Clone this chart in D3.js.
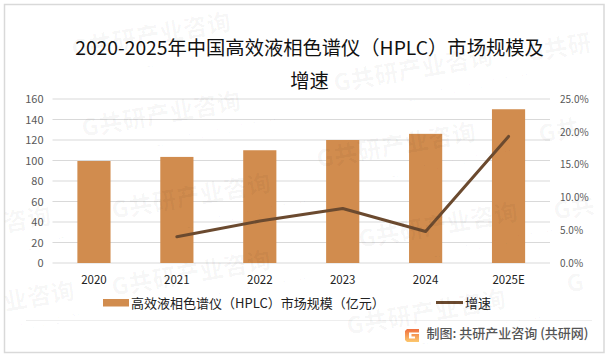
<!DOCTYPE html>
<html>
<head>
<meta charset="utf-8">
<script src="https://cdn.jsdelivr.net/npm/d3@7"></script>
<style>
body { margin: 0; background: #fff; }
text { font-family: "Noto Sans CJK SC", "Noto Sans", sans-serif; }
.axisGrey .domain { display: none; }
.axisGrey .tick line { display: none; }
</style>
</head>
<body>
<div id="my_dataviz"></div>
<script>
var years = ["2020", "2021", "2022", "2023", "2024", "2025E"];
var marketSize = [99.5, 103.5, 110, 120, 126, 150];
var growth = [null, 4.0, 6.4, 8.3, 4.8, 19.3];
var leftTicks = [0, 20, 40, 60, 80, 100, 120, 140, 160];
var rightTicks = [0, 5, 10, 15, 20, 25];
var titleLines = ["2020-2025年中国高效液相色谱仪（HPLC）市场规模及", "增速"];
var barLabel = "高效液相色谱仪（HPLC）市场规模（亿元）";
var lineLabel = "增速";
var sourceLabel = "制图: 共研产业咨询 (共研网)";
// watermark stamps: [x, y, name, site], the ones at the page edge only show part of the name
var stamps = [
  [73, 58, "G共研产业咨询", "www.gonyn.com"],
  [83, 137, "G共研产业咨询", "www.gonyn.com"],
  [113, 219, "G共研产业咨询", "www.gonyn.com"],
  [113, 296, "G共研产业咨询", "www.gonyn.com"],
  [318, 168, "G共研产业咨询", "www.gonyn.com"],
  [335, 92, "G共研产业咨询", "www.gonyn.com"],
  [360, 248, "G共研产业咨询", "www.gonyn.com"],
  [348, 335, "G共研产业咨询", "www.gonyn.com"],
  [528, 62, "G共研", "www"],
  [540, 143, "G共", "www"],
  [555, 220, "G共", "ww"],
  [568, 293, "G", "w"],
  [5, 232, "咨询", ".com"],
  [5, 311, "业咨询", "n.com"]
];

var margin = {top: 99, right: 60, bottom: 97, left: 52.5},
width = 610 - margin.left - margin.right,
height = 360 - margin.top - margin.bottom;

var svg = d3.select("#my_dataviz")
.append("svg")
.attr("width", 610)
.attr("height", 360)
.style("display", "block");

// outer frame
svg.append("rect")
.attr("x", 4.5).attr("y", 4.5)
.attr("width", 599.5).attr("height", 348)
.attr("fill", "#fff")
.attr("stroke", "#d9d9d9")
.attr("stroke-width", 1.5);

// title
svg.selectAll(".title")
.data(titleLines)
.enter()
.append("text")
.attr("class", "title")
.attr("x", 309.5)
.attr("y", function(d, i) { return 55 + i * 33; })
.attr("text-anchor", "middle")
.style("font-size", "19.3px")
.style("fill", "#111")
.text(function(d) { return d; });

var g = svg.append("g")
.attr("transform", "translate(" + margin.left + "," + margin.top + ")");

var x = d3.scaleBand().domain(years).range([0, width]).paddingInner(0.6).paddingOuter(0.3);
var y = d3.scaleLinear().domain([0, 160]).range([height, 0]);
var yRight = d3.scaleLinear().domain([0, 25]).range([height, 0]);

// grid
g.selectAll(".grid")
.data(leftTicks)
.enter()
.append("line")
.attr("x1", 0)
.attr("x2", width)
.attr("y1", function(d) { return y(d); })
.attr("y2", function(d) { return y(d); })
.attr("stroke", "#d9d9d9")
.attr("stroke-width", 1);

// bars
g.selectAll(".bar")
.data(marketSize)
.enter()
.append("rect")
.attr("class", "bar")
.attr("x", function(d, i) { return x(years[i]); })
.attr("y", function(d) { return y(d); })
.attr("width", x.bandwidth())
.attr("height", function(d) { return height - y(d); })
.attr("fill", "#d18c4e");

// growth line, starts at 2021
var line = d3.line()
.defined(function(d) { return d !== null; })
.x(function(d, i) { return x(years[i]) + x.bandwidth() / 2; })
.y(function(d) { return yRight(d); });

g.append("path")
.datum(growth)
.attr("d", line)
.attr("fill", "none")
.attr("stroke", "#6b4a2f")
.attr("stroke-width", 3)
.attr("stroke-linecap", "round")
.attr("stroke-linejoin", "round");

// axes
var leftAxis = g.append("g")
.attr("class", "axisGrey")
.call(d3.axisLeft(y).tickValues(leftTicks).tickSize(0).tickPadding(9));
leftAxis.selectAll("text").style("font-size", "11px").style("fill", "#595959");

var rightAxis = g.append("g")
.attr("class", "axisGrey")
.attr("transform", "translate(" + width + ",0)")
.call(d3.axisRight(yRight).tickValues(rightTicks).tickSize(0).tickPadding(10)
  .tickFormat(function(d) { return d.toFixed(1) + "%"; }));
rightAxis.selectAll("text").style("font-size", "10px").style("fill", "#595959");

var bottomAxis = g.append("g")
.attr("class", "axisGrey")
.attr("transform", "translate(0," + height + ")")
.call(d3.axisBottom(x).tickSize(0).tickPadding(13));
bottomAxis.selectAll("text").style("font-size", "11.5px").style("fill", "#222");

// legend
svg.append("rect")
.attr("x", 103).attr("y", 299)
.attr("width", 26).attr("height", 7.5)
.attr("fill", "#d18c4e");
svg.append("text")
.attr("x", 131).attr("y", 308)
.style("font-size", "13px")
.style("fill", "#222")
.text(barLabel);
svg.append("line")
.attr("x1", 436).attr("x2", 463)
.attr("y1", 302.5).attr("y2", 302.5)
.attr("stroke", "#6b4a2f")
.attr("stroke-width", 3);
svg.append("text")
.attr("x", 465).attr("y", 308)
.style("font-size", "13px")
.style("fill", "#222")
.text(lineLabel);

// footer
svg.append("line")
.attr("x1", 26).attr("x2", 592)
.attr("y1", 320.5).attr("y2", 320.5)
.attr("stroke", "#eeeeee");

// logo, a blocky orange G
var logoGrad = svg.append("defs").append("linearGradient")
.attr("id", "logoGrad").attr("x1", 0).attr("y1", 0).attr("x2", 0).attr("y2", 1);
logoGrad.append("stop").attr("offset", 0).attr("stop-color", "#f0703f");
logoGrad.append("stop").attr("offset", 1).attr("stop-color", "#fcc86e");
svg.append("path")
.attr("transform", "translate(405,329)")
.attr("d", "M2 0H14V3.5H4V9.5H10V7.5H6.5V5H14V13H2L0 11V2Z")
.attr("fill", "url(#logoGrad)");

svg.append("text")
.attr("x", 426.5).attr("y", 338)
.style("font-size", "13px")
.style("font-weight", "500")
.style("fill", "#555")
.text(sourceLabel);

// watermarks on top of everything, very faint
var stamp = svg.selectAll(".stamp")
.data(stamps)
.enter()
.append("g")
.attr("class", "stamp")
.attr("transform", function(d) { return "translate(" + d[0] + "," + d[1] + ") rotate(-10)"; })
.style("fill", "rgba(0,0,0,0.028)");
stamp.append("text")
.style("font-size", "24px")
.style("font-weight", "900")
.text(function(d) { return d[2]; });
stamp.append("text")
.attr("x", 8).attr("y", 22)
.style("font-size", "13px")
.style("letter-spacing", "7px")
.text(function(d) { return d[3]; });
</script>
</body>
</html>
